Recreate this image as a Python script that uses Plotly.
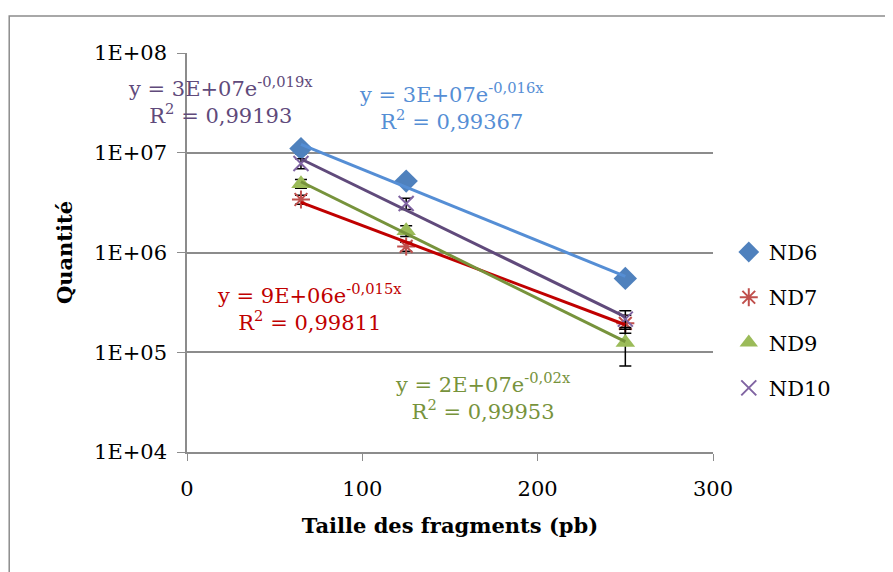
import numpy as np
import plotly.graph_objects as go

sizes = [65, 125, 250]
series_names = ["ND6", "ND7", "ND9", "ND10"]
nd6 = [1.1e7, 5.2e6, 5.5e5]
nd7 = [3.4e6, 1.15e6, 1.95e5]
nd9 = [4.9e6, 1.65e6, 1.25e5]
nd10 = [7.8e6, 3.1e6, 2.15e5]
err6 = [1.2e6, 3.0e5, 4.0e4]
err7 = [3.5e5, 1.2e5, 4.0e4]
err9 = [5.0e5, 2.0e5, 5.2e4]
err10 = [9.0e5, 4.0e5, 4.5e4]
eq_texts = [
    "y = 3E+07e<sup>-0,016x</sup><br>R<sup>2</sup> = 0,99367",
    "y = 9E+06e<sup>-0,015x</sup><br>R<sup>2</sup> = 0,99811",
    "y = 2E+07e<sup>-0,02x</sup><br>R<sup>2</sup> = 0,99953",
    "y = 3E+07e<sup>-0,019x</sup><br>R<sup>2</sup> = 0,99193",
]
ytick_vals = [1e4, 1e5, 1e6, 1e7, 1e8]
ytick_text = ["1E+04", "1E+05", "1E+06", "1E+07", "1E+08"]

values = [nd6, nd7, nd9, nd10]
errors = [err6, err7, err9, err10]
marker_colors = ["#4F81BD", "#C0504D", "#9BBB59", "#8064A2"]
line_colors = ["#558ED5", "#C00000", "#77933C", "#604A7B"]
symbols = ["diamond", "asterisk-open", "triangle-up", "x-thin-open"]
msizes = [18, 15, 17, 15]
# annotation centres (data x, log10 y)
ann_pos = [(151, 7.46), (70, 5.45), (169, 4.56), (19, 7.52)]

SERIF = "DejaVu Serif"
fig = go.Figure()

for i, name in enumerate(series_names):
    sym = symbols[i]
    mk = dict(symbol=sym, size=msizes[i], color=marker_colors[i])
    if sym.endswith("open"):
        mk["line"] = dict(color=marker_colors[i], width=2)
    fig.add_trace(go.Scatter(
        x=sizes, y=values[i], mode="markers", name=name,
        legendgroup=name,
        marker=mk,
        error_y=dict(type="data", array=errors[i], color="black",
                     thickness=1.5, width=6),
    ))

for i, name in enumerate(series_names):
    xs = np.array(sizes, dtype=float)
    ly = np.log(np.array(values[i]))
    b, a = np.polyfit(xs, ly, 1)
    xl = np.array([xs.min(), xs.max()])
    fig.add_trace(go.Scatter(
        x=xl, y=np.exp(a + b * xl), mode="lines", showlegend=False,
        line=dict(color=line_colors[i], width=3), hoverinfo="skip",
    ))

for i in range(4):
    fig.add_annotation(
        x=ann_pos[i][0], y=ann_pos[i][1], xref="x", yref="y",
        text=eq_texts[i], showarrow=False, align="center",
        font=dict(family=SERIF, size=21, color=line_colors[i]),
    )

fig.add_shape(type="rect", xref="paper", yref="paper",
              x0=-0.338, x1=1.4, y0=-0.4, y1=1.0927,
              line=dict(color="#8C8C8C", width=1.5), layer="below")

fig.update_layout(
    width=885, height=564,
    margin=dict(l=179, r=180, t=45, b=120),
    paper_bgcolor="white", plot_bgcolor="white",
    font=dict(family=SERIF, size=20, color="black"),
    showlegend=True,
    legend=dict(x=1.03, y=0.33, xanchor="left", yanchor="middle",
                font=dict(family=SERIF, size=21), tracegroupgap=15,
                itemwidth=30, bgcolor="rgba(0,0,0,0)"),
    xaxis=dict(range=[0, 300], dtick=100, showgrid=False,
               showline=True, linecolor="#8C8C8C", linewidth=1.5,
               ticks="outside", ticklen=7, tickcolor="#8C8C8C",
               tickfont=dict(family=SERIF, size=21), zeroline=False,
               ticklabelstandoff=10,
               title=dict(text="<b>Taille des fragments (pb)</b>",
                          font=dict(family=SERIF, size=21), standoff=18)),
    yaxis=dict(type="log", range=[4, 8], tickvals=ytick_vals,
               ticktext=ytick_text, showgrid=True, gridcolor="#8C8C8C",
               gridwidth=1.5, showline=True, linecolor="#8C8C8C",
               linewidth=1.5, ticks="outside", ticklen=8,
               tickcolor="#8C8C8C", tickfont=dict(family=SERIF, size=21),
               zeroline=False, ticklabelstandoff=6,
               title=dict(text="<b>Quantité</b>",
                          font=dict(family=SERIF, size=21), standoff=16)),
)

fig.write_html("out.html")
